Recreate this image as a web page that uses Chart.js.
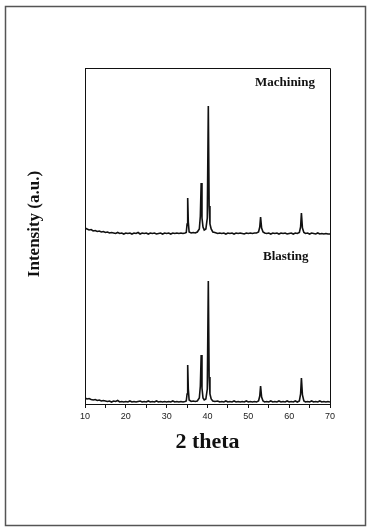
<!DOCTYPE html>
<html>
<head>
<meta charset="utf-8">
<script src="https://cdn.jsdelivr.net/npm/chart.js@4/dist/chart.umd.min.js"></script>
<style>
  html, body { margin: 0; padding: 0; background: #fff; }
  canvas { display: block; }
</style>
</head>
<body>
<canvas id="xrd" width="371" height="529"></canvas>
<script>
// 2 theta positions (deg), shared by both patterns
const twoTheta = [
  10, 10.5, 11, 11.5, 12, 12.5, 13, 13.5, 14, 14.5,
  15, 15.5, 16, 16.5, 17, 17.5, 18, 18.5, 19, 19.5,
  20, 20.5, 21, 21.5, 22, 22.5, 23, 23.5, 24, 24.5,
  25, 25.5, 26, 26.5, 27, 27.5, 28, 28.5, 29, 29.5,
  30, 30.5, 31, 31.5, 32, 32.5, 33, 33.5, 34, 34.5,
  34.8, 35.0, 35.15, 35.3, 35.5, 36, 36.5, 37, 37.5, 38.0,
  38.25, 38.45, 38.65, 38.9, 39.2, 39.6, 39.95, 40.2, 40.4, 40.6,
  40.9, 41.3, 41.8, 42.5, 43, 43.5, 44, 44.5, 45, 45.5,
  46, 46.5, 47, 47.5, 48, 48.5, 49, 49.5, 50, 50.5,
  51, 51.5, 52, 52.5, 52.8, 53.0, 53.25, 53.6, 54, 54.5,
  55, 55.5, 56, 56.5, 57, 57.5, 58, 58.5, 59, 59.5,
  60, 60.5, 61, 61.5, 62, 62.5, 62.8, 63.0, 63.25, 63.6,
  64, 64.5, 65, 65.5, 66, 66.5, 67, 67.5, 68, 68.5,
  69, 69.5, 70
];

// intensities (a.u.)
const machining = [
  8, 7, 6, 6.5, 5, 5.5, 4.5, 5, 4, 4.5,
  3.5, 4, 3, 3.5, 3, 2.5, 3.5, 2.5, 3, 2,
  3, 2.5, 3, 2, 3, 2.5, 3.5, 2, 3, 2.5,
  3, 2, 3, 2.5, 3, 2, 2.5, 3, 2, 3,
  2.5, 3, 2, 3, 2.5, 3, 2.5, 3, 2.5, 3,
  3.5, 12, 38, 14, 4, 3, 3.5, 3, 4, 7,
  20, 53, 18, 9, 6, 7, 18, 130, 30, 12,
  7, 4, 3.5, 2.5, 3, 2.5, 3, 2, 3, 2.5,
  3, 2, 3, 2.5, 3, 2.5, 2, 3, 2.5, 3,
  2.5, 3, 3, 4, 9, 19, 8, 4, 3, 2.5,
  3, 2, 3, 2.5, 3, 2, 3, 2.5, 3, 2,
  2.5, 3, 2, 3, 2.5, 3.5, 9, 23, 8, 3.5,
  2.5, 3, 2, 3, 2.5, 2, 3, 2, 2.5, 2,
  2.5, 2, 2
];

const blasting = [
  6, 5, 5.5, 4.5, 4, 4.5, 3.5, 4, 3, 3.5,
  3, 2.5, 3, 2, 3, 2.5, 3.5, 2, 2.5, 2,
  2.5, 2, 3, 2, 2.5, 2, 2.5, 3, 2, 2.5,
  2, 3, 2, 2.5, 2, 3, 2, 2.5, 2, 2.5,
  2, 2.5, 2, 3, 2, 2.5, 2, 2.5, 2, 2.5,
  3, 10, 39, 15, 4, 2.5, 3, 2.5, 3, 6,
  18, 49, 16, 6, 4, 5, 15, 123, 27, 10,
  5, 3, 2.5, 3, 2, 2.5, 2, 3, 2, 2.5,
  2, 3, 2, 2.5, 2, 2.5, 2, 3, 2, 2.5,
  2, 2.5, 2, 3, 8, 18, 7, 3, 2, 2.5,
  2, 3, 2, 2.5, 2, 3, 2, 2.5, 2, 3,
  2, 2.5, 2, 3, 2, 3, 10, 26, 9, 3,
  2, 2.5, 2, 3, 2, 2.5, 2, 3, 2, 2.5,
  2, 2.5, 2
];

// vertical shift of the upper pattern
const machiningOffset = 168;

const xTicks = [10, 20, 30, 40, 50, 60, 70];

const toPoints = (ys, shift) => twoTheta.map((x, i) => ({ x, y: ys[i] + shift }));

const serif = '"Liberation Serif", "Times New Roman", serif';

const annotate = {
  id: 'annotate',
  afterDraw(chart) {
    const { ctx, chartArea: a } = chart;
    ctx.save();
    // frame top / right
    ctx.strokeStyle = '#111';
    ctx.lineWidth = 1;
    ctx.beginPath();
    ctx.moveTo(a.left, a.top + 0.5);
    ctx.lineTo(a.right + 0.5, a.top + 0.5);
    ctx.lineTo(a.right + 0.5, a.bottom);
    ctx.stroke();

    // outer page border
    ctx.strokeStyle = '#555';
    ctx.lineWidth = 1.5;
    ctx.strokeRect(5.5, 6.5, 360, 519);

    ctx.fillStyle = '#111';
    ctx.textBaseline = 'middle';
    ctx.textAlign = 'left';
    ctx.font = 'bold 13px ' + serif;
    ctx.fillText('Machining', 255, 83);
    ctx.fillText('Blasting', 263, 257);

    ctx.translate(35, 224);
    ctx.rotate(-Math.PI / 2);
    ctx.textAlign = 'center';
    ctx.font = 'bold 17px ' + serif;
    ctx.fillText('Intensity (a.u.)', 0, 0);
    ctx.restore();
  }
};

new Chart(document.getElementById('xrd'), {
  type: 'line',
  data: {
    datasets: [
      {
        label: 'Machining',
        data: toPoints(machining, machiningOffset),
        borderColor: '#111',
        borderWidth: 1.6,
        pointRadius: 0,
        tension: 0,
      },
      {
        label: 'Blasting',
        data: toPoints(blasting, 0),
        borderColor: '#111',
        borderWidth: 1.6,
        pointRadius: 0,
        tension: 0,
      },
    ],
  },
  options: {
    responsive: false,
    animation: false,
    layout: { padding: { top: 68, right: 41, left: 0, bottom: 0 } },
    plugins: { legend: { display: false }, tooltip: { enabled: false } },
    scales: {
      x: {
        type: 'linear',
        min: 10,
        max: 70,
        afterFit: (scale) => { scale.height = 125; },
        border: { color: '#111', width: 1 },
        grid: { drawOnChartArea: false, tickLength: 4, color: '#111' },
        ticks: {
          stepSize: 5,
          autoSkip: false,
          maxRotation: 0,
          padding: 3,
          color: '#222',
          font: { family: '"Liberation Sans", Arial, sans-serif', size: 9 },
          callback: (v) => (xTicks.includes(v) ? String(v) : ''),
        },
        title: {
          display: true,
          text: '2 theta',
          color: '#111',
          font: { family: serif, size: 22, weight: 'bold' },
          padding: { top: 0, bottom: 73 },
        },
      },
      y: {
        min: 0,
        max: 336,
        afterFit: (scale) => { scale.width = 85; },
        border: { color: '#111', width: 1 },
        grid: { display: false },
        ticks: { display: false },
      },
    },
  },
  plugins: [annotate],
});
</script>
</body>
</html>
